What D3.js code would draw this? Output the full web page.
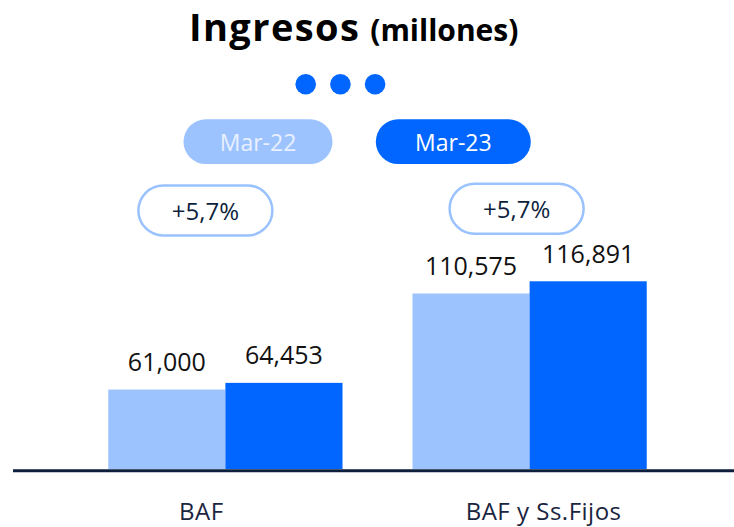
<!DOCTYPE html>
<html>
<head>
<meta charset="utf-8">
<script src="https://cdn.jsdelivr.net/npm/d3@7"></script>
<style>
  html, body { margin: 0; padding: 0; background: #fff; }
  svg { display: block; font-family: "Open Sans", sans-serif; }
</style>
</head>
<body>
<svg width="734" height="527"></svg>
<script>
// data
const categories = ["BAF", "BAF y Ss.Fijos"];
const seriesNames = ["Mar-22", "Mar-23"];
const mar22 = [61000, 110575];
const mar23 = [64453, 116891];
const growthLabels = ["+5,7%", "+5,7%"];

const colors = ["#9dc3ff", "#0066ff"];
const navy = "#0d1f3c";

const svg = d3.select("svg");
const width = +svg.attr("width");

// scales
const x0 = d3.scaleBand()
  .domain(categories)
  .range([17, 738])
  .paddingInner(0.23)
  .paddingOuter(0.3);

const x1 = d3.scaleBand()
  .domain(seriesNames)
  .range([0, x0.bandwidth()]);

const y = d3.scaleLinear()
  .domain([20000, 140000])
  .range([469, 236.5]);

const rows = categories.map((c, i) => ({
  cat: c,
  values: [
    { key: seriesNames[0], value: mar22[i] },
    { key: seriesNames[1], value: mar23[i] },
  ],
}));

// title
const title = svg.append("text")
  .attr("x", 189)
  .attr("y", 40.8)
  .attr("fill", "#000")
  .attr("font-weight", 700);
title.append("tspan")
  .attr("font-size", "38px")
  .attr("letter-spacing", "1.4px")
  .text("Ingresos");
title.append("tspan")
  .attr("font-size", "30px")
  .attr("dx", 10)
  .text("(millones)");

// three dots
svg.append("g")
  .selectAll("circle")
  .data([0, 1, 2])
  .enter()
  .append("circle")
  .attr("cx", (d) => 305.7 + d * 34.7)
  .attr("cy", 84.3)
  .attr("r", 10.3)
  .attr("fill", "#0066ff");

// legend pills
const legendPos = [
  { cx: 258, w: 149, text: "#e8f0ff" },
  { cx: 453.3, w: 155, text: "#ffffff" },
];
const legend = svg.append("g")
  .selectAll("g")
  .data(seriesNames)
  .enter()
  .append("g")
  .attr("transform", (d, i) => "translate(" + legendPos[i].cx + ",141.7)");

legend.append("rect")
  .attr("x", (d, i) => -legendPos[i].w / 2)
  .attr("y", -22.4)
  .attr("width", (d, i) => legendPos[i].w)
  .attr("height", 44.8)
  .attr("rx", 22.4)
  .attr("fill", (d, i) => colors[i]);

legend.append("text")
  .attr("text-anchor", "middle")
  .attr("y", 9.3)
  .attr("font-size", "23px")
  .attr("fill", (d, i) => legendPos[i].text)
  .text((d) => d);

// growth bubbles
const bubbleShift = [-20, -13];
const bubbleY = [210.5, 208.7];
const bubble = svg.append("g")
  .selectAll("g")
  .data(categories)
  .enter()
  .append("g")
  .attr("transform", (d, i) =>
    "translate(" + (x0(d) + x0.bandwidth() / 2 + bubbleShift[i]) + "," + bubbleY[i] + ")");

bubble.append("rect")
  .attr("x", -67)
  .attr("y", -25)
  .attr("width", 134)
  .attr("height", 50)
  .attr("rx", 25)
  .attr("fill", "#fff")
  .attr("stroke", "#99c2ff")
  .attr("stroke-width", 2.5);

bubble.append("text")
  .attr("text-anchor", "middle")
  .attr("y", 9.5)
  .attr("font-size", "24px")
  .attr("fill", navy)
  .text((d, i) => growthLabels[i]);

// bars
const groups = svg.append("g")
  .selectAll("g")
  .data(rows)
  .enter()
  .append("g")
  .attr("transform", (d) => "translate(" + x0(d.cat) + ",0)");

groups.selectAll("rect")
  .data((d) => d.values)
  .enter()
  .append("rect")
  .attr("x", (d) => x1(d.key))
  .attr("y", (d) => y(d.value))
  .attr("width", x1.bandwidth())
  .attr("height", (d) => y.range()[0] - y(d.value))
  .attr("fill", (d, i) => colors[i]);

groups.selectAll("text")
  .data((d) => d.values)
  .enter()
  .append("text")
  .attr("x", (d) => x1(d.key) + x1.bandwidth() / 2)
  .attr("y", (d) => y(d.value) - 18.6)
  .attr("text-anchor", "middle")
  .attr("font-size", "25px")
  .attr("fill", "#111")
  .text((d) => d3.format(",")(d.value));

// baseline
svg.append("line")
  .attr("x1", 13)
  .attr("x2", width)
  .attr("y1", 470.7)
  .attr("y2", 470.7)
  .attr("stroke", navy)
  .attr("stroke-width", 3);

// category labels (sit a bit off the group centre in the original)
const labelShift = [-24, 14];
svg.append("g")
  .selectAll("text")
  .data(categories)
  .enter()
  .append("text")
  .attr("x", (d, i) => x0(d) + x0.bandwidth() / 2 + labelShift[i])
  .attr("y", 519.5)
  .attr("text-anchor", "middle")
  .attr("font-size", "24px")
  .attr("letter-spacing", "0.5px")
  .attr("fill", "#1a2540")
  .text((d) => d);
</script>
</body>
</html>
